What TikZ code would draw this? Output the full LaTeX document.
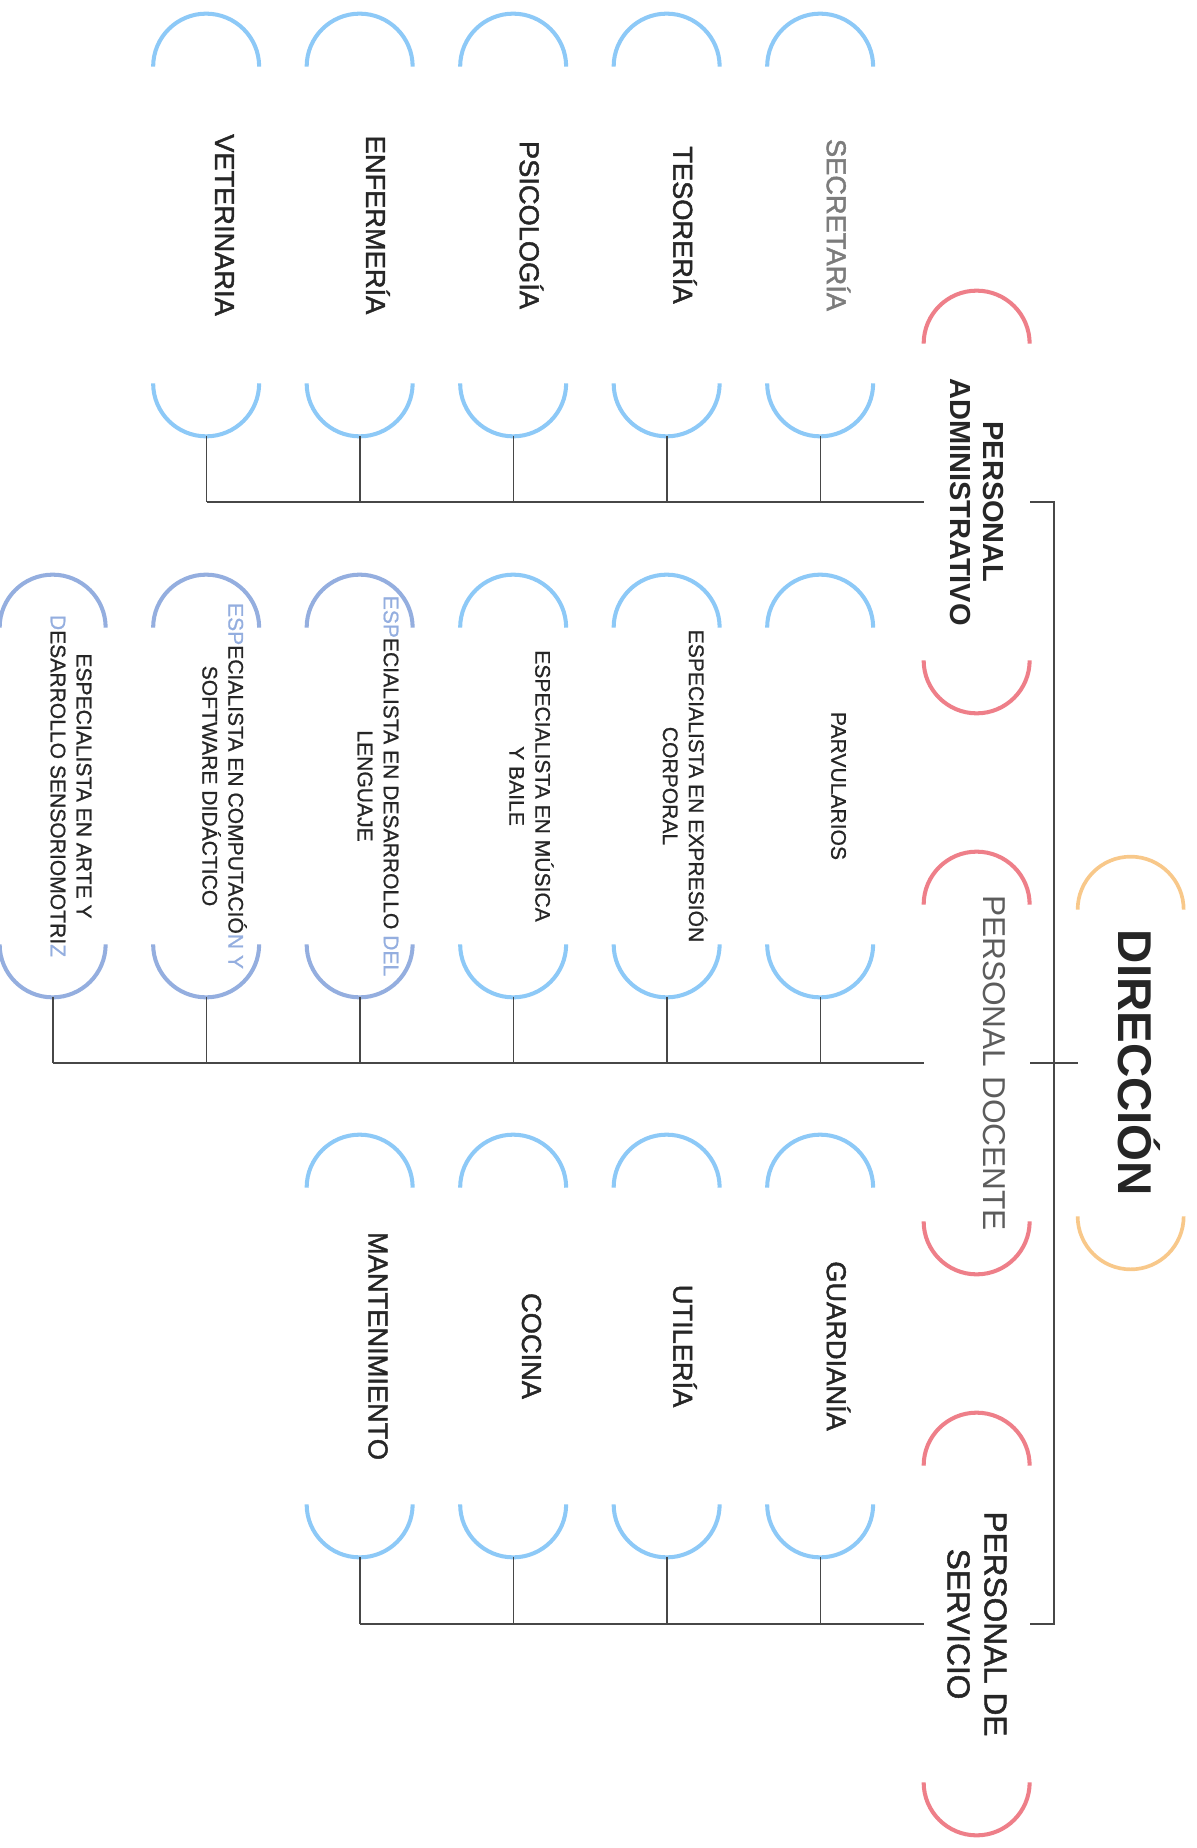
\documentclass[tikz,border=0pt]{standalone}
\usepackage{fontspec}
\setmainfont{Liberation Sans}
\newfontfamily\medfont[FakeBold=1.6]{Liberation Sans}
\newfontfamily\semifont[FakeBold=0.8]{Liberation Sans}
\usepackage{xcolor}
\usepackage{tikz}
\usetikzlibrary{calc}
\definecolor{ink}{HTML}{262626}
\definecolor{soft}{HTML}{7C7C7C}
\definecolor{docgray}{HTML}{5C5C5C}
\definecolor{wire}{HTML}{474747}
\definecolor{sky}{HTML}{8DC9F7}
\definecolor{lav}{HTML}{94AEDF}
\definecolor{rose}{HTML}{EE7F89}
\definecolor{amber}{HTML}{F8C88A}
\tikzset{
  box/.style={rectangle, minimum width=2.12cm, minimum height=8.44cm, inner sep=0pt},
  capsky/.style={draw=sky, line width=2.3pt},
  caplav/.style={draw=lav, line width=2.3pt},
  caprose/.style={draw=rose, line width=2.3pt},
  capamber/.style={draw=amber, line width=2.1pt},
  wire/.style={draw=wire, line width=0.85pt},
  lab/.style={rotate=-90, text=ink, align=center, inner sep=0pt, font=\medfont\fontsize{15.5}{18}\selectfont},
  labs/.style={rotate=-90, text=ink, align=center, inner sep=0pt, font=\semifont\fontsize{12}{14.8}\selectfont},
  grp/.style={rotate=-90, text=ink, align=center, inner sep=0pt, font=\bfseries\fontsize{16.5}{18.4}\selectfont},
  grpr/.style={rotate=-90, align=center, inner sep=0pt, font=\fontsize{18}{21}\selectfont}
}
\newcommand{\Caps}[2]{%
  \draw[#2] ([yshift=-1.06cm]#1.north west) arc[start angle=180, end angle=0, radius=1.06cm];
  \draw[#2] ([yshift=1.06cm]#1.south west) arc[start angle=180, end angle=360, radius=1.06cm];
}

\begin{document}
\begin{tikzpicture}
  \useasboundingbox (0,0) rectangle (23.92,-36.96);

  % heads
  \node[box, minimum height=8.24cm] (dir) at (22.62,-21.26) {};
  \node[box] (adm) at (19.54,-10.04) {};
  \node[box] (doc) at (19.54,-21.26) {};
  \node[box] (ser) at (19.54,-32.48) {};
  \Caps{dir}{capamber}
  \Caps{adm}{caprose}
  \Caps{doc}{caprose}
  \Caps{ser}{caprose}
  \node[rotate=-90, text=ink, inner sep=0pt, font=\bfseries\fontsize{27}{32}\selectfont] (dir-t) at ([xshift=0.16cm]dir.center) {DIRECCIÓN};
  \node[grp] (adm-t) at (adm.center) {PERSONAL\\ADMINISTRATIVO};
  \node[grpr, text=docgray] (doc-t) at ([xshift=0.34cm]doc.center) {PERSONAL DOCENTE};
  \node[grpr, text=ink, font=\medfont\fontsize{18}{21}\selectfont] (ser-t) at (ser.center) {PERSONAL DE\\SERVICIO};

  \coordinate (jA) at (21.08,-10.04);
  \coordinate (jS) at (21.08,-32.48);
  \draw[wire] (adm.east) -- (jA) -- (jS) -- (ser.east);
  \draw[wire] (doc.east) -- (dir.west);

  % administrativo
  \node[box] (vet) at (4.13,-4.50) {};
  \node[box] (enf) at (7.20,-4.50) {};
  \node[box] (psi) at (10.27,-4.50) {};
  \node[box] (tes) at (13.34,-4.50) {};
  \node[box] (sec) at (16.41,-4.50) {};
  \foreach \n in {vet,enf,psi,tes,sec} {\Caps{\n}{capsky}}
  \node[lab] (vet-t) at ([xshift=0.36cm]vet.center) {VETERINARIA};
  \node[lab] (enf-t) at ([xshift=0.36cm]enf.center) {ENFERMERÍA};
  \node[lab] (psi-t) at ([xshift=0.36cm]psi.center) {PSICOLOGÍA};
  \node[lab] (tes-t) at ([xshift=0.36cm]tes.center) {TESORERÍA};
  \node[lab, text=soft] (sec-t) at ([xshift=0.36cm]sec.center) {SECRETARÍA};
  \foreach \n in {vet,enf,psi,tes,sec} {\draw[wire] (\n.south) -- (\n.south |- adm.west);}
  \draw[wire] (vet.south |- adm.west) -- (adm.west);

  % docente
  \node[box] (arte) at (1.06,-15.72) {};
  \node[box] (comp) at (4.13,-15.72) {};
  \node[box] (leng) at (7.20,-15.72) {};
  \node[box] (musi) at (10.27,-15.72) {};
  \node[box] (corp) at (13.34,-15.72) {};
  \node[box] (parv) at (16.41,-15.72) {};
  \foreach \n in {arte,comp,leng} {\Caps{\n}{caplav}}
  \foreach \n in {musi,corp,parv} {\Caps{\n}{capsky}}
  \node[labs] (arte-t) at ([xshift=0.36cm]arte.center) {ESPECIALISTA EN ARTE Y\\\textcolor{lav}{D}ESARROLLO SENSORIOMOTRI\textcolor{lav}{Z}};
  \node[labs] (comp-t) at ([xshift=0.36cm]comp.center) {\textcolor{lav}{ESP}ECIALISTA EN COMPUTACIÓ\textcolor{lav}{N Y}\\SOFTWARE DIDÁCTICO};
  \node[labs] (leng-t) at ([xshift=0.36cm]leng.center) {\textcolor{lav}{ESP}ECIALISTA EN DESARROLLO \textcolor{lav}{DEL}\\LENGUAJE};
  \node[labs] (musi-t) at ([xshift=0.36cm]musi.center) {ESPECIALISTA EN MÚSICA\\Y BAILE};
  \node[labs] (corp-t) at ([xshift=0.36cm]corp.center) {ESPECIALISTA EN EXPRESIÓN\\CORPORAL};
  \node[labs] (parv-t) at ([xshift=0.36cm]parv.center) {PARVULARIOS};
  \foreach \n in {arte,comp,leng,musi,corp,parv} {\draw[wire] (\n.south) -- (\n.south |- doc.west);}
  \draw[wire] (arte.south |- doc.west) -- (doc.west);

  % servicio
  \node[box] (mant) at (7.20,-26.92) {};
  \node[box] (coci) at (10.27,-26.92) {};
  \node[box] (util) at (13.34,-26.92) {};
  \node[box] (guar) at (16.41,-26.92) {};
  \foreach \n in {mant,coci,util,guar} {\Caps{\n}{capsky}}
  \node[lab] (mant-t) at ([xshift=0.36cm]mant.center) {MANTENIMIENTO};
  \node[lab] (coci-t) at ([xshift=0.36cm]coci.center) {COCINA};
  \node[lab] (util-t) at ([xshift=0.36cm]util.center) {UTILERÍA};
  \node[lab] (guar-t) at ([xshift=0.36cm]guar.center) {GUARDIANÍA};
  \foreach \n in {mant,coci,util,guar} {\draw[wire] (\n.south) -- (\n.south |- ser.west);}
  \draw[wire] (mant.south |- ser.west) -- (ser.west);
\end{tikzpicture}
\end{document}
